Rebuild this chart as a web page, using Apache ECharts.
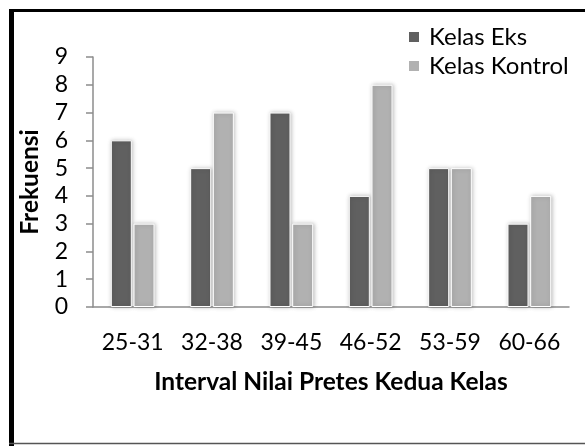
<!DOCTYPE html>
<html>
<head>
<meta charset="utf-8">
<script src="https://cdn.jsdelivr.net/npm/echarts@6/dist/echarts.min.js"></script>
<style>
html,body{margin:0;padding:0;background:#fff;}
#chart{width:585px;height:446px;}
</style>
</head>
<body>
<div id="chart"></div>
<script>
var categories = ['25-31', '32-38', '39-45', '46-52', '53-59', '60-66'];
var kelasEks = [6, 5, 7, 4, 5, 3];
var kelasKontrol = [3, 7, 3, 8, 5, 4];
var seriesNames = ['Kelas Eks', 'Kelas Kontrol'];
var yTicks = [0, 1, 2, 3, 4, 5, 6, 7, 8, 9];

var font = 'Lato, "Open Sans", sans-serif';
var chart = echarts.init(document.getElementById('chart'), null, {renderer: 'canvas'});
chart.setOption({
  animation: false,
  backgroundColor: '#ffffff',
  graphic: [
    {type: 'line', shape: {x1: 9, y1: 10.5, x2: 585, y2: 10.5}, style: {stroke: '#000', lineWidth: 3}},
    {type: 'line', shape: {x1: 11.5, y1: 9, x2: 11.5, y2: 446}, style: {stroke: '#000', lineWidth: 5}},
    {type: 'line', shape: {x1: 9, y1: 443.5, x2: 585, y2: 443.5}, style: {stroke: '#555', lineWidth: 1.5}}
  ],
  legend: {
    data: seriesNames,
    orient: 'vertical',
    left: 407,
    top: 25,
    padding: 0,
    itemWidth: 12,
    itemHeight: 12,
    itemGap: 5,
    icon: 'rect',
    textStyle: {fontFamily: font, fontSize: 24, color: '#000', padding: [0, 0, 0, 4]}
  },
  grid: {left: 93, right: 16, top: 57, bottom: 139},
  xAxis: {
    type: 'category',
    data: categories,
    name: 'Interval Nilai Pretes Kedua Kelas',
    nameLocation: 'middle',
    nameGap: 63,
    nameTextStyle: {fontFamily: font, fontSize: 24.5, fontWeight: 'bold', color: '#000'},
    axisLine: {lineStyle: {color: '#8c8c8c', width: 1.5}},
    axisTick: {alignWithLabel: false, length: 8, lineStyle: {color: '#8c8c8c', width: 1.5}},
    axisLabel: {interval: 0, hideOverlap: false, fontFamily: font, fontSize: 23, color: '#000', margin: 24}
  },
  yAxis: {
    type: 'value',
    min: yTicks[0],
    max: yTicks[yTicks.length - 1],
    interval: 1,
    name: 'Frekuensi',
    nameLocation: 'middle',
    nameGap: 50,
    nameTextStyle: {fontFamily: font, fontSize: 24.5, fontWeight: 'bold', color: '#000'},
    axisLine: {show: true, lineStyle: {color: '#8c8c8c', width: 1.5}},
    axisTick: {show: true, length: 7, lineStyle: {color: '#8c8c8c', width: 1.5}},
    splitLine: {show: false},
    axisLabel: {fontFamily: font, fontSize: 23, color: '#000', margin: 25}
  },
  series: [
    {
      name: seriesNames[0],
      type: 'bar',
      data: kelasEks,
      barWidth: 21,
      barGap: '8%',
      itemStyle: {color: '#606060', borderColor: '#ffffff', borderWidth: 1, shadowColor: 'rgba(0,0,0,0.25)', shadowBlur: 4, shadowOffsetX: 1}
    },
    {
      name: seriesNames[1],
      type: 'bar',
      data: kelasKontrol,
      barWidth: 21,
      itemStyle: {color: '#b1b1b1', borderColor: '#ffffff', borderWidth: 1, shadowColor: 'rgba(0,0,0,0.25)', shadowBlur: 4, shadowOffsetX: 1}
    }
  ]
});
</script>
</body>
</html>
